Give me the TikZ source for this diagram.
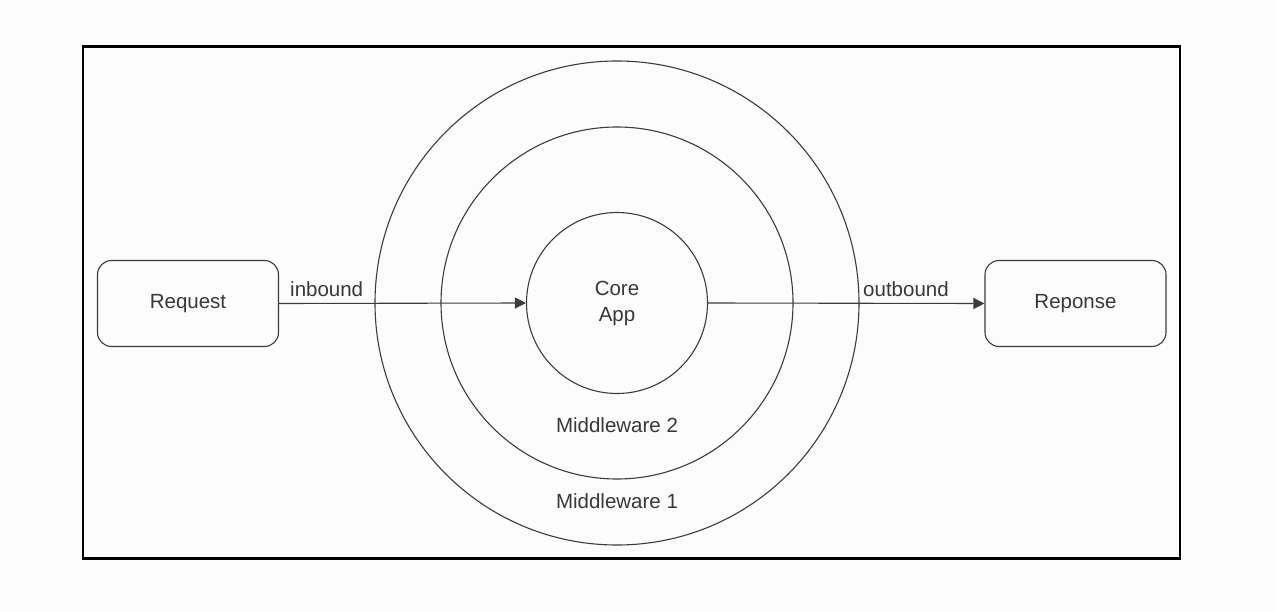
\documentclass[tikz,border=0pt]{standalone}
\usepackage{fontspec}
\setmainfont{Liberation Sans}
\usetikzlibrary{arrows.meta}
\definecolor{bg}{HTML}{FCFCFC}
\definecolor{ln}{HTML}{3C3C3C}
\definecolor{tx}{HTML}{383838}
\tikzset{
  box/.style={draw=ln, line width=1.1pt, rounded corners=14pt, minimum width=181pt, minimum height=86pt, inner sep=0pt, text=tx},
  ring/.style={draw=ln, line width=1.1pt, circle, inner sep=0pt},
  lbl/.style={text=tx, inner sep=0pt},
  conn/.style={draw=ln, line width=1.1pt, -{Triangle[length=11pt,width=11pt]}}
}
\begin{document}
\begin{tikzpicture}[x=1pt,y=-1pt,font=\fontsize{20.5}{26}\selectfont]
\useasboundingbox[fill=bg] (0,0) rectangle (1276,612);
\draw[black, line width=2.8pt] (83,46.5) rectangle (1180,558.5);
\node[ring, minimum size=484pt] (mw1) at (617,303) {};
\node[ring, minimum size=352pt] (mw2) at (617,303) {};
\node[ring, minimum size=181pt] (core) at (617,303) {};
\node[lbl, align=center, anchor=north] (coretxt) at (617,280.5) {Core\\App};
\node[box] (req) at (188,303.5) {Request};
\node[box] (resp) at (1075.5,303.5) {Reponse};
\draw[conn] (req.east) -- (core.west);
\draw[conn] (core.east) -- (resp.west);
\node[lbl, anchor=base west] (inb) at (290,296) {inbound};
\node[lbl, anchor=base west] (outb) at (863,296) {outbound};
\node[lbl, anchor=base] (m2) at (617,432) {Middleware 2};
\node[lbl, anchor=base] (m1) at (617,508) {Middleware 1};
\end{tikzpicture}
\end{document}
